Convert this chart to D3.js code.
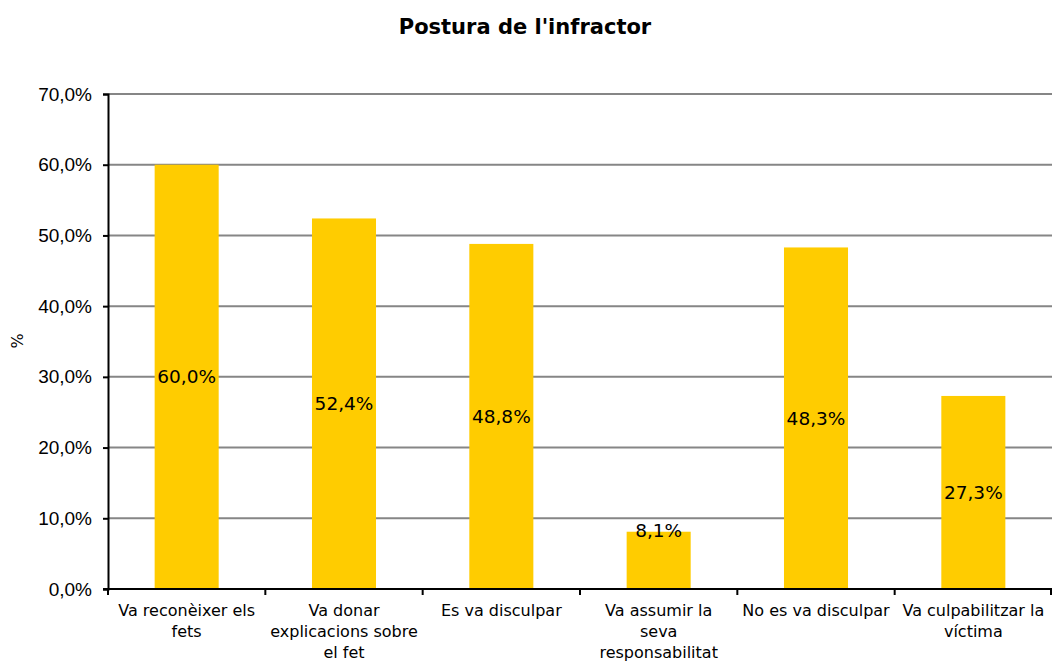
<!DOCTYPE html>
<html>
<head>
<meta charset="utf-8">
<script src="https://cdn.jsdelivr.net/npm/d3@7"></script>
<style>
  body { margin: 0; background: #fff; }
  svg { font-family: "DejaVu Sans", Verdana, sans-serif; }
</style>
</head>
<body>
<div class="chart"></div>
<script>
var categories = [
  ["Va reconèixer els", "fets"],
  ["Va donar", "explicacions sobre", "el fet"],
  ["Es va disculpar"],
  ["Va assumir la", "seva", "responsabilitat"],
  ["No es va disculpar"],
  ["Va culpabilitzar la", "víctima"]
];
var values = [60.0, 52.4, 48.8, 8.1, 48.3, 27.3];
var yTicks = [0, 10, 20, 30, 40, 50, 60, 70];

var width = 1052, height = 664;
var margin = { left: 108, right: 0, top: 94, bottom: 75 };

var svg = d3.select(".chart").append("svg")
  .attr("width", width)
  .attr("height", height);

var fmt = function(v) { return v.toFixed(1).replace(".", ",") + "%"; };

var x = d3.scaleBand()
  .domain(d3.range(values.length))
  .range([margin.left, width - margin.right])
  .paddingInner(0.593)
  .paddingOuter(0.2965);

var band = d3.scaleBand()
  .domain(d3.range(values.length))
  .range([margin.left, width - margin.right]);

var y = d3.scaleLinear()
  .domain([0, 70])
  .range([height - margin.bottom, margin.top]);

// gridlines
svg.append("g")
  .selectAll("line")
  .data(yTicks.slice(1))
  .enter().append("line")
    .attr("x1", margin.left)
    .attr("x2", width)
    .attr("y1", function(d) { return y(d); })
    .attr("y2", function(d) { return y(d); })
    .attr("stroke", "#868686")
    .attr("stroke-width", 2);

// bars
svg.append("g")
  .selectAll("rect")
  .data(values)
  .enter().append("rect")
    .attr("x", function(d, i) { return x(i); })
    .attr("y", function(d) { return y(d); })
    .attr("width", x.bandwidth())
    .attr("height", function(d) { return y(0) - y(d); })
    .attr("fill", "#FFCC00");

// bar labels
svg.append("g")
  .selectAll("text")
  .data(values)
  .enter().append("text")
    .attr("x", function(d, i) { return x(i) + x.bandwidth() / 2; })
    .attr("y", function(d) {
      var mid = (y(d) + y(0)) / 2;
      return (y(0) - y(d) < 80 ? y(d) - 1 : mid);
    })
    .attr("dy", "0.35em")
    .attr("text-anchor", "middle")
    .style("font-size", "18.5px")
    .text(fmt);

// y axis
var yAxis = svg.append("g")
  .attr("transform", "translate(" + margin.left + ",0)")
  .call(d3.axisLeft(y).tickValues(yTicks).tickSize(5).tickPadding(11).tickFormat(function(d) { return d.toFixed(1).replace(".", ",") + "%"; }));
yAxis.select(".domain").attr("stroke", "#000").attr("stroke-width", 2);
yAxis.selectAll(".tick line").attr("stroke", "#000").attr("stroke-width", 2);
yAxis.selectAll("text").style("font-size", "19px").attr("fill", "#000");

// x axis
var xg = svg.append("g")
  .attr("transform", "translate(0," + y(0) + ")");
xg.append("line")
  .attr("x1", margin.left - 5)
  .attr("x2", width)
  .attr("stroke", "#000")
  .attr("stroke-width", 2);
xg.selectAll(".tk")
  .data(d3.range(values.length + 1))
  .enter().append("line")
    .attr("class", "tk")
    .attr("x1", function(i) { return i < values.length ? band(i) : width - 1; })
    .attr("x2", function(i) { return i < values.length ? band(i) : width - 1; })
    .attr("y1", 0)
    .attr("y2", 6)
    .attr("stroke", "#000")
    .attr("stroke-width", 2);

var lab = xg.selectAll(".lab")
  .data(categories)
  .enter().append("text")
    .attr("class", "lab")
    .attr("text-anchor", "middle")
    .style("font-size", "16px")
    .attr("transform", function(d, i) { return "translate(" + (band(i) + band.bandwidth() / 2) + ",27)"; });
lab.selectAll("tspan")
  .data(function(d) { return d; })
  .enter().append("tspan")
    .attr("x", 0)
    .attr("y", function(d, j) { return j * 21; })
    .text(function(d) { return d; });

// y title
svg.append("text")
  .attr("transform", "translate(23,341) rotate(-90)")
  .attr("text-anchor", "middle")
  .style("font-size", "16px")
  .text("%");

// title
svg.append("text")
  .attr("x", 525)
  .attr("y", 34)
  .attr("text-anchor", "middle")
  .style("font-size", "21px")
  .style("font-weight", "bold")
  .text("Postura de l'infractor");
</script>
</body>
</html>
